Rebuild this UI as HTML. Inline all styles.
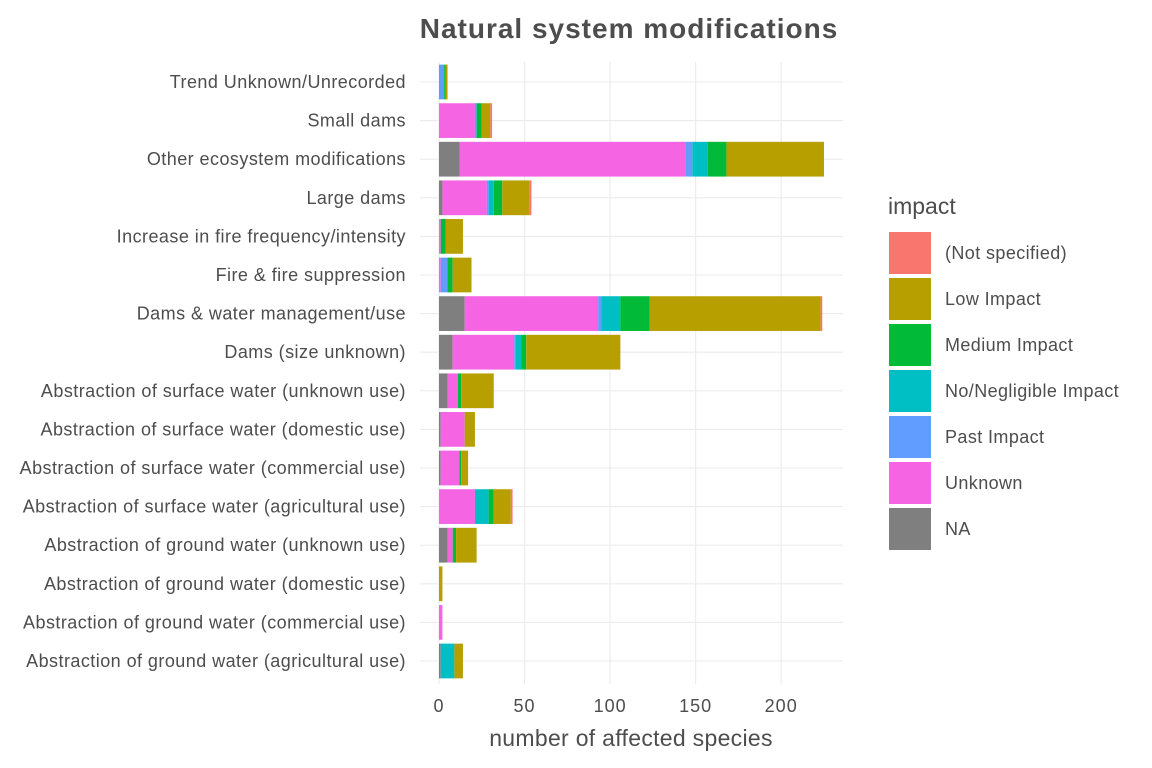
<!DOCTYPE html>
<html><head><meta charset="utf-8">
<style>
html,body{margin:0;padding:0;background:#fff;}
svg{display:block;font-family:"Liberation Sans",sans-serif;}
</style></head>
<body>
<svg id="chart" width="1152" height="768" viewBox="0 0 1152 768">
<text x="629" y="38" text-anchor="middle" font-size="28" letter-spacing="1" font-weight="bold" fill="#4d4d4d">Natural system modifications</text>
<g id="grid"></g>
<g id="bars"></g>
<g id="ylabels"></g>
<g id="xlabels"></g>
<text x="631" y="746" text-anchor="middle" font-size="23" letter-spacing="0.3" fill="#4d4d4d">number of affected species</text>
<g id="legend">
<text x="888" y="214" font-size="23" fill="#4d4d4d">impact</text>
</g>
</svg>
<script>
const categories = ["Trend Unknown/Unrecorded","Small dams","Other ecosystem modifications","Large dams","Increase in fire frequency/intensity","Fire & fire suppression","Dams & water management/use","Dams (size unknown)","Abstraction of surface water (unknown use)","Abstraction of surface water (domestic use)","Abstraction of surface water (commercial use)","Abstraction of surface water (agricultural use)","Abstraction of ground water (unknown use)","Abstraction of ground water (domestic use)","Abstraction of ground water (commercial use)","Abstraction of ground water (agricultural use)"];
const seriesNames = ["NA","Unknown","Past Impact","No/Negligible Impact","Medium Impact","Low Impact","(Not specified)"];
const naVals      = [0,0,12,2,0,0,15,8,5,1,1,0,5,0,0,1];
const unknownVals = [0,21,132,26,1,1,78,36,6,14,11,21,3,0,2,0];
const pastVals    = [3,1,4,1,0,4,2,1,0,0,0,0,0,0,0,0];
const noNegVals   = [0,0,9,3,0,0,11,3,0,0,0,8,0,0,0,8];
const mediumVals  = [1,3,11,5,3,3,17,3,2,0,1,3,2,0,0,0];
const lowVals     = [1,5,57,16,10,11,100,55,19,6,4,10,12,2,0,5];
const notSpecVals = [0,1,0,1,0,0,1,0,0,0,0,1,0,0,0,0];
const xTicks = [0,50,100,150,200];
const legendLabels = ["(Not specified)","Low Impact","Medium Impact","No/Negligible Impact","Past Impact","Unknown","NA"];

const colors = {"NA":"#7F7F7F","Unknown":"#F564E3","Past Impact":"#619CFF","No/Negligible Impact":"#00BFC4","Medium Impact":"#00BA38","Low Impact":"#B79F00","(Not specified)":"#F8766D"};
const seriesVals = [naVals,unknownVals,pastVals,noNegVals,mediumVals,lowVals,notSpecVals];
const SVGNS="http://www.w3.org/2000/svg";
const pLeft=420,pRight=843,pTop=62,pBottom=684;
const x0=439,pxPerUnit=1.711;
function xs(v){return x0+v*pxPerUnit;}
const step=(661-82)/15;
function ys(i){return 82+i*step;}
const bh=step*0.9;
function mk(tag,attrs,parent){const e=document.createElementNS(SVGNS,tag);for(const k in attrs)e.setAttribute(k,attrs[k]);parent.appendChild(e);return e;}
const grid=document.getElementById('grid');
categories.forEach((c,i)=>{
  const l=mk('line',{x1:pLeft,x2:pRight,y1:ys(i),y2:ys(i),stroke:'#ebebeb','stroke-width':1.1},grid);
  
  
});
xTicks.forEach(t=>{
  const l=mk('line',{x1:xs(t),x2:xs(t),y1:pTop,y2:pBottom,stroke:'#ebebeb','stroke-width':1.1},grid);
  
  
});
const bars=document.getElementById('bars');
categories.forEach((c,i)=>{
  let acc=0;
  seriesVals.forEach((arr,s)=>{
    const v=arr[i];
    if(v>0){
      const r=mk('rect',{x:xs(acc),y:ys(i)-bh/2,width:v*pxPerUnit,height:bh,fill:colors[seriesNames[s]]},bars);
      
      
    }
    acc+=v;
  });
});
const yl=document.getElementById('ylabels');
categories.forEach((c,i)=>{
  const t=mk('text',{x:406,y:ys(i)+6,'text-anchor':'end','font-size':18,'letter-spacing':0.45,fill:'#4d4d4d'},yl);
  t.textContent=c;
  
  
});
const xl=document.getElementById('xlabels');
xTicks.forEach(v=>{
  const t=mk('text',{x:xs(v),y:712,'text-anchor':'middle','font-size':18,'letter-spacing':1,fill:'#4d4d4d'},xl);
  t.textContent=v;
  
  
});
const lg=document.getElementById('legend');
legendLabels.forEach((lab,i)=>{
  const y=232+i*46;
  const r=mk('rect',{x:889,y:y,width:42,height:42,fill:colors[lab]},lg);
  
  
  const t=mk('text',{x:945,y:y+27,'font-size':18,'letter-spacing':0.4,fill:'#4d4d4d'},lg);
  t.textContent=lab;
  
  
});
</script>
</body></html>
